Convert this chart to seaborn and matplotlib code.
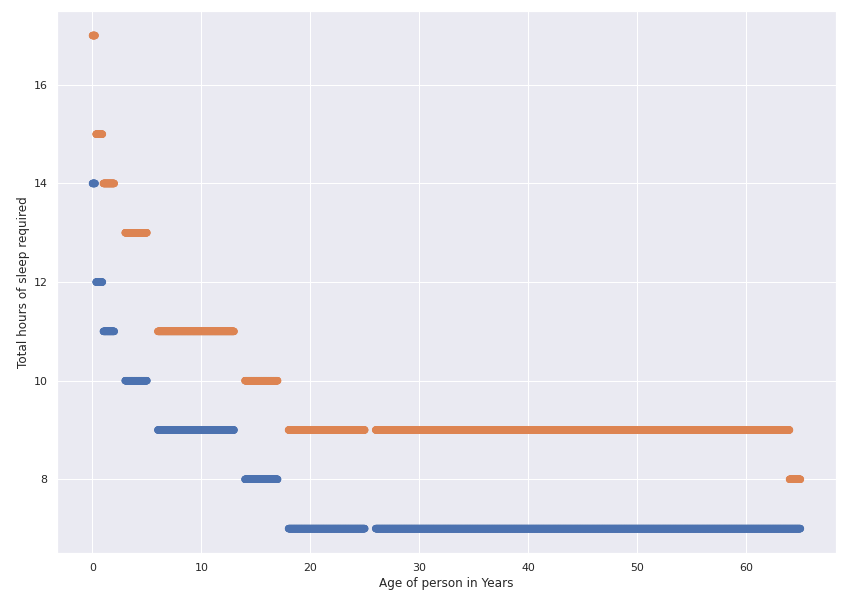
import numpy as np
import pandas as pd
import matplotlib
matplotlib.use("Agg")
import matplotlib.pyplot as plt
import seaborn as sns

# age ranges (years) and recommended sleep hours
min_start = [0, 0.33, 1, 3, 6, 14, 18, 26]
min_end = [0.25, 0.92, 2, 5, 13, 17, 25, 65]
min_hours = [14, 12, 11, 10, 9, 8, 7, 7]

max_start = [0, 0.33, 1, 3, 6, 14, 18, 26, 64]
max_end = [0.25, 0.92, 2, 5, 13, 17, 25, 64, 65]
max_hours = [17, 15, 14, 13, 11, 10, 9, 9, 8]


def expand(starts, ends, hours, label):
    rows = []
    for s, e, h in zip(starts, ends, hours):
        for age in np.arange(s, e + 1e-9, 0.02):
            rows.append({"Age": age, "Hours": h, "Kind": label})
    return pd.DataFrame(rows)


df = pd.concat([
    expand(min_start, min_end, min_hours, "min"),
    expand(max_start, max_end, max_hours, "max"),
])

sns.set()
dpi = 72
fig, ax = plt.subplots(figsize=(852 / dpi, 604 / dpi), dpi=dpi)
sns.scatterplot(data=df, x="Age", y="Hours", hue="Kind",
                palette=sns.color_palette("deep")[:2], linewidth=0,
                s=55, legend=False, ax=ax)
ax.set_xlabel("Age of person in Years")
ax.set_ylabel("Total hours of sleep required")
plt.subplots_adjust(left=0.067, right=0.981, top=0.982, bottom=0.084)
plt.savefig("out.png", dpi=dpi)
